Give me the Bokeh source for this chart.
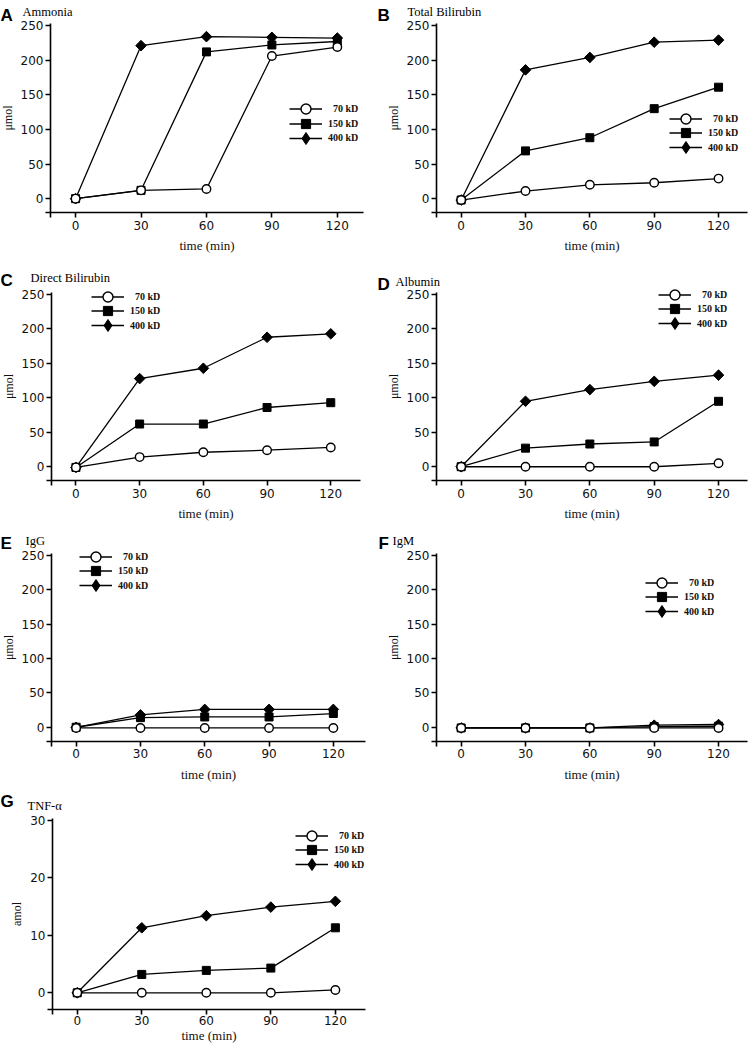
from bokeh.plotting import figure
from bokeh.models import (Label, Legend, LegendItem, FixedTicker, Range1d,
                          ColumnDataSource, CDSView, IndexFilter)
from bokeh.layouts import column, row
from bokeh.embed import file_html
from bokeh.resources import INLINE
import math

# ---------------- data ----------------
time_min = [0, 30, 60, 90, 120]
series_labels = ["\u200770 kD", "150 kD", "400 kD"]
umol_ticks = [0, 50, 100, 150, 200, 250]
amol_ticks = [0, 10, 20, 30]

ammonia_70 = [0, 12, 14, 206, 219]
ammonia_150 = [0, 12, 212, 222, 227]
ammonia_400 = [0, 221, 234, 233, 232]

total_bili_70 = [-2, 11, 20, 23, 29]
total_bili_150 = [-2, 69, 88, 130, 161]
total_bili_400 = [-2, 186, 204, 226, 229]

direct_bili_70 = [-1, 14, 21, 24, 28]
direct_bili_150 = [-1, 62, 62, 86, 93]
direct_bili_400 = [-1, 128, 143, 188, 193]

albumin_70 = [0, 0, 0, 0, 5]
albumin_150 = [0, 27, 33, 36, 95]
albumin_400 = [0, 95, 112, 124, 133]

igg_70 = [-1, -1, -1, -1, -1]
igg_150 = [0, 14, 15, 15, 20]
igg_400 = [0, 18, 26, 26, 26]

igm_70 = [-1, -1, -1, -1, -1]
igm_150 = [-1, -1, -1, 1, 1.5]
igm_400 = [-1, -1, -1, 3, 4]

tnf_70 = [0, 0, 0, 0, 0.5]
tnf_150 = [0, 3.2, 3.9, 4.3, 11.3]
tnf_400 = [0, 11.3, 13.4, 14.9, 15.9]

# ---------------- layout config (pixels inside each panel) ----------------
UMOL = (-20, 253)
AMOL = (-2.9, 30.3)

panels = [
    dict(letter="A", name="Ammonia", ylabel="\u03bcmol", ys=(ammonia_70, ammonia_150, ammonia_400),
         yticks=umol_ticks, ylim=UMOL, xlim=(-11.5, 132), W=375, H=264, L=50, R=363, T=23, B=212,
         letter_pos=(0, 249), name_pos=(22, 253), leg=(289, 108.5)),
    dict(letter="B", name="Total Bilirubin", ylabel="\u03bcmol", ys=(total_bili_70, total_bili_150, total_bili_400),
         yticks=umol_ticks, ylim=UMOL, xlim=(-11.5, 133.5), W=375, H=264, L=61, R=372, T=23, B=212,
         letter_pos=(2, 249), name_pos=(32, 253), leg=(294, 118)),
    dict(letter="C", name="Direct Bilirubin", ylabel="\u03bcmol", ys=(direct_bili_70, direct_bili_150, direct_bili_400),
         yticks=umol_ticks, ylim=UMOL, xlim=(-11.5, 134), W=375, H=260, L=51, R=360, T=28, B=216,
         letter_pos=(0, 244), name_pos=(30, 247), leg=(91, 32)),
    dict(letter="D", name="Albumin", ylabel="\u03bcmol", ys=(albumin_70, albumin_150, albumin_400),
         yticks=umol_ticks, ylim=UMOL, xlim=(-11.5, 133.5), W=375, H=260, L=61, R=372, T=28, B=216,
         letter_pos=(2, 240), name_pos=(20, 243), leg=(283, 30)),
    dict(letter="E", name="IgG", ylabel="\u03bcmol", ys=(igg_70, igg_150, igg_400),
         yticks=umol_ticks, ylim=UMOL, xlim=(-11.5, 135), W=375, H=260, L=51, R=365, T=29, B=216.5,
         letter_pos=(0, 241), name_pos=(25, 244), leg=(79, 32)),
    dict(letter="F", name="IgM", ylabel="\u03bcmol", ys=(igm_70, igm_150, igm_400),
         yticks=umol_ticks, ylim=UMOL, xlim=(-11.5, 133.5), W=375, H=260, L=61, R=372, T=29, B=216.5,
         letter_pos=(3, 241), name_pos=(17, 244), leg=(270, 58)),
    dict(letter="G", name="TNF-\u03b1", ylabel="amol", ys=(tnf_70, tnf_150, tnf_400),
         yticks=amol_ticks, ylim=AMOL, xlim=(-11.5, 134), W=375, H=262, L=52, R=365, T=34, B=225,
         letter_pos=(0, 245), name_pos=(27, 241), leg=(295, 51), compact=True),
]

SERIF = "Liberation Serif"
SANS = "DejaVu Sans"
ROW_PITCH = 14.5


def add_legend_row(p, H, item, x, center_y, glyph_h):
    """One legend entry; its key sits centred on center_y (pixels from the panel top)."""
    lg = Legend(items=[item], location=(x, H - (center_y + glyph_h / 2.0)),
                orientation="vertical", glyph_width=33, glyph_height=glyph_h,
                label_height=12, label_standoff=6, spacing=0,
                padding=0, margin=0, border_line_color=None, background_fill_alpha=0,
                label_text_font=SERIF, label_text_font_style="bold",
                label_text_font_size="10px", label_text_color="#111111")
    p.add_layout(lg)


def make_panel(cfg):
    W, H, L, R, T, B = cfg["W"], cfg["H"], cfg["L"], cfg["R"], cfg["T"], cfg["B"]
    xlim, ylim = cfg["xlim"], cfg["ylim"]
    sx = (R - L) / (xlim[1] - xlim[0])
    sy = (B - T) / (ylim[1] - ylim[0])
    xr = Range1d(xlim[0] - L / sx, xlim[1] + (W - R) / sx)
    yr = Range1d(ylim[0] - (H - B) / sy, ylim[1] + T / sy)

    p = figure(width=W, height=H, x_range=xr, y_range=yr,
               output_backend="svg", toolbar_location=None, title=None,
               min_border=0, min_border_left=0, min_border_right=0,
               min_border_top=0, min_border_bottom=0)
    p.outline_line_color = None
    p.xgrid.visible = False
    p.ygrid.visible = False
    p.background_fill_color = "white"
    p.border_fill_color = "white"

    xa, ya = p.xaxis[0], p.yaxis[0]
    xa.fixed_location = ylim[0]
    ya.fixed_location = xlim[0]
    xa.bounds = xlim
    ya.bounds = ylim
    xa.ticker = FixedTicker(ticks=[xlim[0]] + time_min)
    xa.major_label_overrides = {xlim[0]: ""}
    ya.ticker = FixedTicker(ticks=[ylim[0]] + cfg["yticks"])
    ya.major_label_overrides = {ylim[0]: ""}
    xa.axis_label = "time (min)"
    ya.axis_label = cfg["ylabel"]
    for ax in (xa, ya):
        ax.axis_line_width = 1.6
        ax.axis_line_color = "black"
        ax.major_tick_line_width = 1.6
        ax.major_tick_line_color = "black"
        ax.major_tick_out = 5
        ax.major_tick_in = 0
        ax.minor_tick_out = 0
        ax.minor_tick_in = 0
        ax.major_label_text_font = SANS
        ax.major_label_text_font_size = "12px"
        ax.major_label_text_color = "#111111"
        ax.axis_label_text_font = SERIF
        ax.axis_label_text_font_style = "normal"
        ax.axis_label_text_font_size = "13px"
        ax.axis_label_text_color = "#111111"
    if cfg.get("compact"):
        xa.major_label_standoff = 1
        xa.axis_label_standoff = 0
    else:
        xa.major_label_standoff = 3
        xa.axis_label_standoff = 5
    ya.major_label_standoff = 2
    ya.axis_label_standoff = 3
    ya.axis_label_text_font_size = "12px"

    y70, y150, y400 = cfg["ys"]
    lw = 1.3
    l70 = p.line(time_min, y70, line_color="black", line_width=lw)
    l150 = p.line(time_min, y150, line_color="black", line_width=lw)
    l400 = p.line(time_min, y400, line_color="black", line_width=lw)
    # legend key for 400 kD: one diamond hidden beneath the last plotted diamond
    src400 = ColumnDataSource(data=dict(x=time_min, y=y400))
    d400 = p.scatter("x", "y", source=src400, view=CDSView(filter=IndexFilter(indices=[4])),
                     marker="diamond", size=6, fill_color="black", line_color="black", line_width=1)
    s150 = p.scatter(time_min, y150, marker="square", size=8, fill_color="black",
                     line_color="black", line_width=1)
    p.scatter(time_min, y400, marker="square", size=7.5, angle=math.pi / 4,
              fill_color="black", line_color="black", line_width=1)
    s70 = p.scatter(time_min, y70, marker="circle", size=8.5, fill_color="white",
                    line_color="black", line_width=1.4)

    lx0, r1 = cfg["leg"]
    add_legend_row(p, H, LegendItem(label=series_labels[0], renderers=[l70, s70]), lx0, r1, 25)
    add_legend_row(p, H, LegendItem(label=series_labels[1], renderers=[l150, s150]), lx0, r1 + ROW_PITCH, 23)
    add_legend_row(p, H, LegendItem(label=series_labels[2], renderers=[l400, d400]), lx0, r1 + 2 * ROW_PITCH, 30)

    lx, ly = cfg["letter_pos"]
    nx, ny = cfg["name_pos"]
    p.add_layout(Label(x=lx, y=ly, x_units="screen", y_units="screen",
                       text=cfg["letter"], text_font="Liberation Sans", text_font_style="bold",
                       text_font_size="17px", text_baseline="alphabetic", text_color="black"))
    p.add_layout(Label(x=nx, y=ny, x_units="screen", y_units="screen",
                       text=cfg["name"], text_font=SERIF, text_font_style="normal",
                       text_font_size="12.5px", text_baseline="alphabetic", text_color="black"))
    return p


figs = [make_panel(c) for c in panels]
layout = column(
    row(figs[0], figs[1]),
    row(figs[2], figs[3]),
    row(figs[4], figs[5]),
    row(figs[6]),
)

open("out.html", "w").write(file_html(layout, INLINE))
